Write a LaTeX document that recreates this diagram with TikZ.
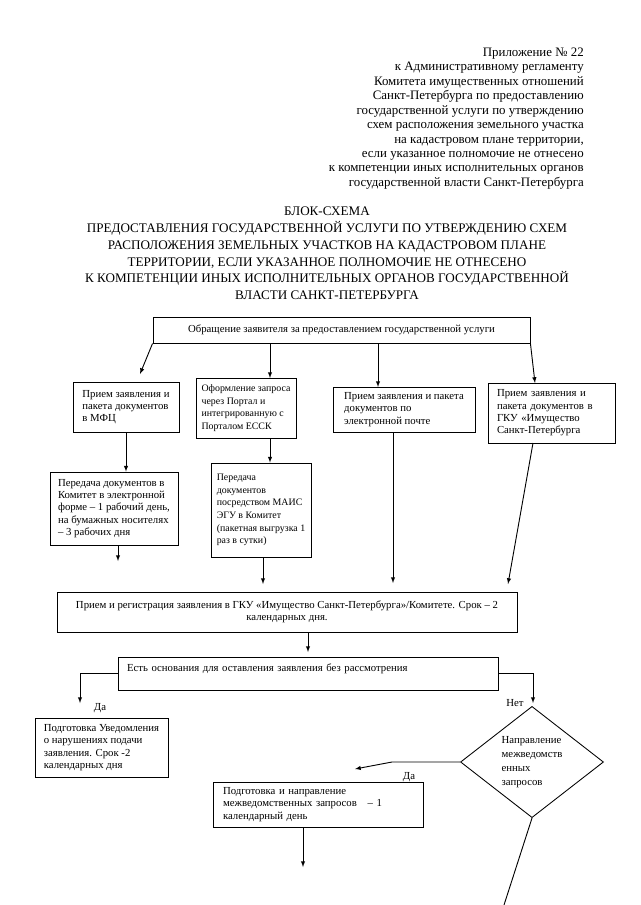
\documentclass[tikz,border=0pt]{standalone}
\usepackage{fontspec}
\setmainfont{Liberation Serif}
\usepackage[svgnames]{xcolor}
\usetikzlibrary{shapes.geometric}
\newdimen\pxu \pxu=0.93013pt
\tikzstyle{plain}=[inner sep=0pt]
\tikzstyle{box}=[draw=Black, line width=0.8, inner sep=0pt, align=left, font=\fontsize{10}{11.4}\selectfont]
\tikzstyle{smallbox}=[style=box, font=\fontsize{9.2}{11.8}\selectfont]
\tikzstyle{decision}=[diamond, draw=Black, line width=0.8, inner sep=0pt, align=left, font=\fontsize{10}{12.8}\selectfont]
\tikzstyle{arrow}=[-latex, draw=Black, line width=0.85]
\tikzstyle{link}=[draw=Black, line width=0.85]
\tikzstyle{answer}=[inner sep=0pt, font=\fontsize{10}{11}\selectfont]

\begin{document}
\begin{tikzpicture}[x=0.93013pt, y=-0.93013pt]
 \path [fill=white, use as bounding box] (0, 0) rectangle (640, 905);
 \node [style=plain, anchor=north east, align=right, font=\fontsize{12}{13.45}\selectfont] (h) at (584, 47.5) {Приложение № 22\\к Административному регламенту\\Комитета имущественных отношений\\Санкт-Петербурга по предоставлению\\государственной услуги по утверждению\\схем расположения земельного участка\\на кадастровом плане территории,\\если указанное полномочие не отнесено\\к компетенции иных исполнительных органов\\государственной власти Санкт-Петербурга};
 \node [style=plain, anchor=north, align=center, font=\fontsize{12.2}{15.6}\selectfont] (t) at (327, 207) {БЛОК-СХЕМА\\ПРЕДОСТАВЛЕНИЯ ГОСУДАРСТВЕННОЙ УСЛУГИ ПО УТВЕРЖДЕНИЮ СХЕМ\\РАСПОЛОЖЕНИЯ ЗЕМЕЛЬНЫХ УЧАСТКОВ НА КАДАСТРОВОМ ПЛАНЕ\\ТЕРРИТОРИИ, ЕСЛИ УКАЗАННОЕ ПОЛНОМОЧИЕ НЕ ОТНЕСЕНО\\К КОМПЕТЕНЦИИ ИНЫХ ИСПОЛНИТЕЛЬНЫХ ОРГАНОВ ГОСУДАРСТВЕННОЙ\\ВЛАСТИ САНКТ-ПЕТЕРБУРГА};
 % boxes
 \node [style=box, align=center, minimum width=377\pxu, minimum height=26\pxu] (0) at (341.5, 330) {Обращение заявителя за предоставлением государственной услуги};
 \node [style=box, minimum width=106\pxu, minimum height=50\pxu] (1) at (126, 407) {Прием заявления и\\пакета документов\\в МФЦ};
 \node [style=smallbox, minimum width=100\pxu, minimum height=60\pxu] (2) at (246, 408) {Оформление запроса\\через Портал и\\интегрированную с\\Порталом ЕССК};
 \node [style=box, minimum width=142\pxu, minimum height=45\pxu] (3) at (404, 409.5) {Прием заявления и пакета\\документов по\\электронной почте};
 \node [style=box, minimum width=127\pxu, minimum height=60\pxu, text width=109\pxu] (4) at (551.5, 413) {Прием заявления и\\пакета документов в\\ГКУ «Имущество\\Санкт-Петербурга};
 \node [style=box, minimum width=128\pxu, minimum height=73\pxu] (5) at (114, 508.5) {Передача документов в\\Комитет в электронной\\форме – 1 рабочий день,\\на бумажных носителях\\– 3 рабочих дня};
 \node [style=smallbox, minimum width=100\pxu, minimum height=94\pxu] (6) at (261, 510) {Передача\\документов\\посредством МАИС\\ЭГУ в Комитет\\(пакетная выгрузка 1\\раз в сутки)};
 \node [style=box, align=center, minimum width=460\pxu, minimum height=40\pxu] (7) at (287, 612) {Прием и регистрация заявления в ГКУ «Имущество Санкт-Петербурга»/Комитете. Срок – 2\\календарных дня.};
 \node [style=box, minimum width=380\pxu, minimum height=33\pxu, text width=362\pxu] (8) at (308, 673.5) {Есть основания для оставления заявления без рассмотрения\\~};
 \node [style=box, minimum width=133\pxu, minimum height=59\pxu] (9) at (101.5, 747.5) {Подготовка Уведомления\\о нарушениях подачи\\заявления. Срок -2\\календарных дня};
 \node [style=box, minimum width=210\pxu, minimum height=45\pxu, text width=190\pxu] (10) at (318, 804.5) {Подготовка и направление\\межведомственных запросов \ \ – 1\\календарный день};
 \node [style=decision, minimum width=143\pxu, minimum height=106\pxu] (11) at (532, 762) {Направление\\межведомств\\енных\\запросов};
 % answers
 \node [style=answer] (12) at (100, 708) {Да};
 \node [style=answer] (13) at (515, 703) {Нет};
 \node [style=answer] (14) at (409, 777) {Да};
 % free ends
 \coordinate (a1) at (140, 374);
 \coordinate (a2) at (270, 378);
 \coordinate (a3) at (378, 387);
 \coordinate (a4) at (535, 383);
 \coordinate (b3) at (393, 583);
 \coordinate (s4) at (533, 443);
 \coordinate (b4) at (508, 584);
 \coordinate (b5) at (118, 561);
 \coordinate (b6) at (263, 584);
 \coordinate (b7) at (308, 652);
 \coordinate (c8l) at (80, 703);
 \coordinate (c8r) at (533, 703);
 \coordinate (d11) at (392, 762);
 \coordinate (d10) at (355, 769);
 \coordinate (e10) at (303, 867);
 \coordinate (e11) at (504, 905);
 % connectors
 \draw [style=arrow] (0.south west) to (a1);
 \draw [style=arrow] (a2 |- 0.south) to (a2);
 \draw [style=arrow] (a3 |- 0.south) to (a3);
 \draw [style=arrow] (0.south east) to (a4);
 \draw [style=arrow] (1.south) to (1.south |- 5.north);
 \draw [style=arrow] (a2 |- 2.south) to (a2 |- 6.north);
 \draw [style=arrow] (b3 |- 3.south) to (b3);
 \draw [style=arrow] (s4) to (b4);
 \draw [style=arrow] (b5 |- 5.south) to (b5);
 \draw [style=arrow] (b6 |- 6.south) to (b6);
 \draw [style=arrow] (b7 |- 7.south) to (b7);
 \draw [style=arrow] (8.west) -| (c8l);
 \draw [style=arrow] (8.east) -| (c8r);
 \draw [style=arrow] (11.west) to (d11) to (d10);
 \draw [style=arrow] (10.south -| e10) to (e10);
 \draw [style=link] (11.south) to (e11);
\end{tikzpicture}
\end{document}
